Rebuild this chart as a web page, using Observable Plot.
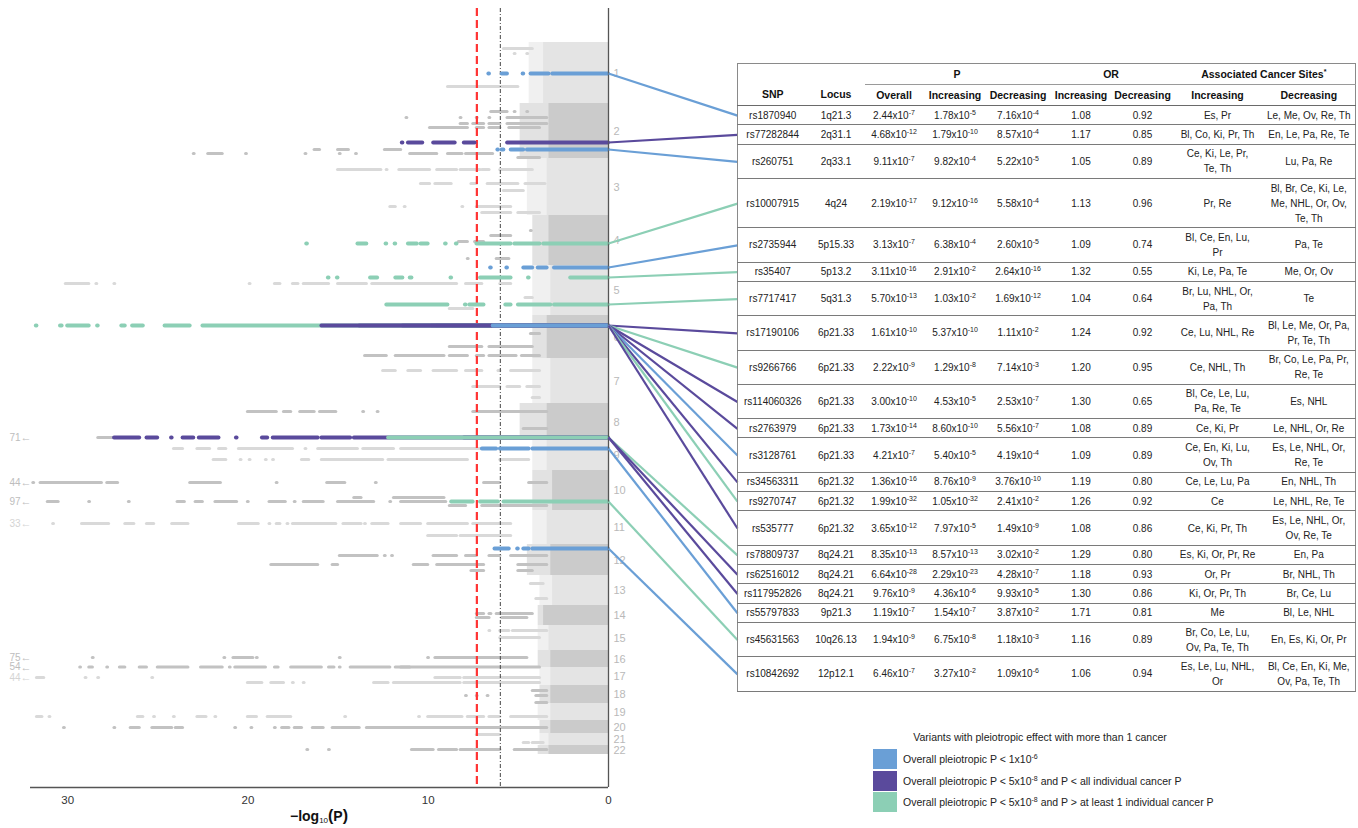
<!DOCTYPE html>
<html>
<head>
<meta charset="utf-8">
<script src="https://cdn.jsdelivr.net/npm/d3@7"></script>
<script src="https://cdn.jsdelivr.net/npm/@observablehq/plot@0.6"></script>
<style>
html,body{margin:0;padding:0;background:#fff;}
#wrap{position:relative;width:1358px;height:828px;overflow:hidden;font-family:"Liberation Sans",Arial,Helvetica,sans-serif;}
#wrap svg{position:absolute;left:0;top:0;overflow:visible;}
#tbl{position:absolute;left:737px;top:63px;width:618px;border-collapse:collapse;table-layout:fixed;border:1.5px solid #8a8a8a;color:#222;font-size:10px;}
#tbl td{padding:1.66px 1px;line-height:15px;text-align:center;vertical-align:middle;white-space:pre;border-bottom:1px solid #7a7a7a;}
#tbl th{font-weight:bold;font-size:10.5px;line-height:15px;padding:2.5px 1px;text-align:center;white-space:nowrap;color:#111;}
#tbl th.grp{border-bottom:1.5px solid #9a9a9a;}
#tbl tr.h2 th{border-bottom:1px solid #6a6a6a;}
#tbl sup{font-size:7px;line-height:0;vertical-align:4px;}
#xlabel{position:absolute;left:0;top:807px;width:638px;text-align:center;font-weight:bold;font-size:14px;color:#111;}
#xlabel sub{font-size:8px;font-weight:normal;vertical-align:-2px;}
#xlabel .par{font-size:16px;}
#legTitle{position:absolute;left:860px;top:731px;width:360px;text-align:center;font-size:10.5px;color:#222;}
.sw{position:absolute;left:873px;width:24px;height:20px;}
.lt{position:absolute;left:903px;height:20px;line-height:20px;font-size:10.5px;color:#222;white-space:nowrap;}
.lt sup{font-size:7px;line-height:0;vertical-align:4px;}
</style>
</head>
<body>
<div id="wrap"></div>
<script>
// ---------------- data ----------------
const chromosomes = ["1","2","3","4","5","6","7","8","9","10","11","12","13","14","15","16","17","18","19","20","21","22"];
const chrSpan   = [61,55,57,50,50,43,45,37,30,40,34,31,30,20,25,17,18,18,17,13,12,9];
const denseMax  = [3.6,3.3,3.4,3.3,3.2,3.4,3.2,3.4,3.4,3.1,3.4,3.2,3.1,3.6,3.3,3.2,3.2,3.2,3.2,3.2,3.3,3.3];
const fringeMax = [4.4,4.9,4.5,4.2,4.2,4.2,4.2,4.9,4.2,4.2,4.2,4.5,3.8,3.9,3.9,3.9,3.8,3.8,3.9,3.8,3.8,3.9];
const xTicks = [0,10,20,30];
const xLimit = 32.06;
const thresholdP = [5e-8, 1e-6];

const snpIds = ["rs1870940","rs77282844","rs260751","rs10007915","rs2735944","rs35407","rs7717417","rs17190106","rs9266766","rs114060326","rs2763979","rs3128761","rs34563311","rs9270747","rs535777","rs78809737","rs62516012","rs117952826","rs55797833","rs45631563","rs10842692"];
const loci = ["1q21.3","2q31.1","2q33.1","4q24","5p15.33","5p13.2","5q31.3","6p21.33","6p21.33","6p21.33","6p21.33","6p21.33","6p21.32","6p21.32","6p21.32","8q24.21","8q24.21","8q24.21","9p21.3","10q26.13","12p12.1"];
const pOverall = ["2.44e-7","4.68e-12","9.11e-7","2.19e-17","3.13e-7","3.11e-16","5.70e-13","1.61e-10","2.22e-9","3.00e-10","1.73e-14","4.21e-7","1.36e-16","1.99e-32","3.65e-12","8.35e-13","6.64e-28","9.76e-9","1.19e-7","1.94e-9","6.46e-7"];
const pIncreasing = ["1.78e-5","1.79e-10","9.82e-4","9.12e-16","6.38e-4","2.91e-2","1.03e-2","5.37e-10","1.29e-8","4.53e-5","8.60e-10","5.40e-5","8.76e-9","1.05e-32","7.97e-5","8.57e-13","2.29e-23","4.36e-6","1.54e-7","6.75e-8","3.27e-2"];
const pDecreasing = ["7.16e-4","8.57e-4","5.22e-5","5.58e-4","2.60e-5","2.64e-16","1.69e-12","1.11e-2","7.14e-3","2.53e-7","5.56e-7","4.19e-4","3.76e-10","2.41e-2","1.49e-9","3.02e-2","4.28e-7","9.93e-5","3.87e-2","1.18e-3","1.09e-6"];
const orIncreasing = ["1.08","1.17","1.05","1.13","1.09","1.32","1.04","1.24","1.20","1.30","1.08","1.09","1.19","1.26","1.08","1.29","1.18","1.30","1.71","1.16","1.06"];
const orDecreasing = ["0.92","0.85","0.89","0.96","0.74","0.55","0.64","0.92","0.95","0.65","0.89","0.89","0.80","0.92","0.86","0.80","0.93","0.86","0.81","0.89","0.94"];
const sitesIncreasing = ["Es, Pr","Bl, Co, Ki, Pr, Th","Ce, Ki, Le, Pr,\nTe, Th","Pr, Re","Bl, Ce, En, Lu,\nPr","Ki, Le, Pa, Te","Br, Lu, NHL, Or,\nPa, Th","Ce, Lu, NHL, Re","Ce, NHL, Th","Bl, Ce, Le, Lu,\nPa, Re, Te","Ce, Ki, Pr","Ce, En, Ki, Lu,\nOv, Th","Ce, Le, Lu, Pa","Ce","Ce, Ki, Pr, Th","Es, Ki, Or, Pr, Re","Or, Pr","Ki, Or, Pr, Th","Me","Br, Co, Le, Lu,\nOv, Pa, Te, Th","Es, Le, Lu, NHL,\nOr"];
const sitesDecreasing = ["Le, Me, Ov, Re, Th","En, Le, Pa, Re, Te","Lu, Pa, Re","Bl, Br, Ce, Ki, Le,\nMe, NHL, Or, Ov,\nTe, Th","Pa, Te","Me, Or, Ov","Te","Bl, Le, Me, Or, Pa,\nPr, Te, Th","Br, Co, Le, Pa, Pr,\nRe, Te","Es, NHL","Le, NHL, Or, Re","Es, Le, NHL, Or,\nRe, Te","En, NHL, Th","Le, NHL, Re, Te","Es, Le, NHL, Or,\nOv, Re, Te","En, Pa","Br, NHL, Th","Br, Ce, Lu","Bl, Le, NHL","En, Es, Ki, Or, Pr","Bl, Ce, En, Ki, Me,\nOv, Pa, Te, Th"];
const snpChr    = [1,2,2,4,5,5,5,6,6,6,6,6,6,6,6,8,8,8,9,10,12];
const snpOffset = [31,39,46,28,2,12,39,10,10,10,10,10,10,10,10,34,34,34,8,31,4];
const snpCategory = [0,1,0,2,0,2,2,1,2,1,1,0,1,2,1,2,1,1,0,2,0];
const categoryLabels = [
  "Overall pleiotropic P < 1x10<sup>-6</sup>",
  "Overall pleiotropic P < 5x10<sup>-8</sup> and P < all individual cancer P",
  "Overall pleiotropic P < 5x10<sup>-8</sup> and P > at least 1 individual cancer P"
];
const legendTitle = "Variants with pleiotropic effect with more than 1 cancer";

// highlighted variant runs: [snp index, -log10P from, -log10P to] (drawing order)
const hlRuns = [
  [0,0,3.1],[0,3.3,4.3],[0,4.7,4.7],[0,5.6,5.9],[0,6.6,6.6],
  [1,11.4,11.4],[1,10.3,11.1],[1,8.5,9.7],[1,7.4,8.0],[1,0,5.6],
  [2,6.1,6.1],[2,5.8,5.9],[2,4.7,5.4],[2,0,4.5],
  [3,16.7,16.7],[3,13.4,13.9],[3,12.3,12.3],[3,11.8,11.8],[3,10.6,11.1],[3,10.0,10.4],[3,9.0,9.0],[3,8.4,8.4],[3,5.4,7.3],[3,3.8,5.2],[3,0,3.6],
  [4,6.5,6.5],[4,5.6,5.6],[4,4.2,4.7],[4,3.4,3.9],[4,0,3.0],
  [5,15.5,15.5],[5,15.0,15.0],[5,12.8,13.2],[5,11.4,11.8],[5,10.9,11.0],[5,8.7,8.7],[5,5.4,7.1],[5,4.4,4.4],[5,0,2.1],
  [6,8.9,12.3],[6,7.9,7.9],[6,6.9,7.7],[6,5.4,5.7],[6,3.2,5.0],[6,0,3.0],
  [8,0,8.65],[7,0,9.8],[9,0,9.5],[14,0,11.4],[10,0,13.8],
  [13,31.7,31.7],[13,30.3,30.4],[13,28.8,30.0],[13,28.3,28.3],[13,26.8,27.0],[13,25.8,26.4],[13,23.2,24.6],[13,0,22.5],
  [12,0,15.9],[11,0,6.4],
  [17,0,8.0],[16,26.0,27.4],[16,25.0,25.6],[16,24.2,24.2],[16,23.0,23.6],[16,21.6,22.7],[16,20.6,20.6],[16,18.9,19.2],[16,16.1,18.6],[16,14.3,15.9],[16,0,14.1],[15,0,12.2],
  [18,6.2,7.0],[18,4.4,6.0],[18,0,4.2],
  [19,7.5,8.7],[19,6.1,7.1],[19,0,5.8],
  [20,5.5,6.3],[20,5.0,5.0],[20,4.4,4.7],[20,0,4.2]
];

// background SNP runs: [chromosome, offset within chromosome, -log10P from, to]
const bgRuns = [
  [1,6,4.2,5.8],[1,11,5.2,5.2],[1,11,4.5,4.5],[1,44,5.0,8.9],
  [2,8,5.6,6.5],[2,8,5.2,5.2],[2,8,4.5,4.5],
  [2,14,11.2,11.2],[2,14,8.2,8.2],[2,14,7.3,7.3],[2,14,6.6,6.6],[2,14,3.4,5.6],
  [2,20,7.8,8.2],[2,20,6.9,7.5],[2,20,6.0,6.6],[2,20,3.4,5.6],
  [2,24,7.8,9.9],[2,24,6.9,7.3],[2,24,6.0,6.6],[2,24,3.8,5.5],
  [2,46,16.0,16.3],[2,46,14.4,15.0],[2,46,11.5,12.4],
  [2,50,23,23],[2,50,21.4,22.2],[2,50,20.1,20.1],[2,50,16.8,16.8],[2,50,14.9,14.9],[2,50,14,14],[2,50,9.5,11.0],[2,50,8.1,8.9],[2,50,6.4,7.9],
  [2,54,3.8,5.0],
  [3,11,12.6,15.0],[3,11,12.3,12.3],[3,11,9.9,11.6],[3,11,8.4,9.5],[3,11,7.1,8.2],[3,11,6.6,7.0],[3,11,4.2,6.0],
  [3,25,9.9,10.4],[3,25,8.7,9.6],[3,25,7.3,7.6],[3,25,5.0,6.7],[3,25,3.5,4.6],
  [3,32,4.7,5.8],
  [3,48,11.8,12.1],[3,48,11.3,11.3],[3,48,8.1,8.1],[3,48,5.4,7.3],
  [3,54,5.4,7.0],[3,54,3.8,5.0],
  [4,15,4.3,4.3],[4,20,5.4,6.5],[4,26,7.8,8.3],[4,26,6.9,7.4],[4,43,7.8,7.8],[4,43,5.5,6.2],
  [5,18,28.8,30.1],[5,18,28.4,28.4],[5,18,27.4,27.4],[5,18,19.9,19.9],[5,18,18.2,18.5],[5,18,17.2,17.5],[5,18,15.5,16.9],[5,18,13.4,15.0],[5,18,8.4,13.1],[5,18,7.0,7.9],[5,18,5.4,6.0],
  [5,32,4.2,4.6],[5,43,7.5,8.8],
  [6,18,3.8,4.3],[6,31,7.0,8.8],[6,31,4.2,6.6],
  [6,40,12.3,13.5],[6,40,9.1,11.8],[6,40,7.8,8.8],[6,40,6.9,7.3],[6,40,5.1,6.6],[6,40,3.8,4.8],
  [7,12,11.8,12.5],[7,12,10.4,11.1],[7,12,8.4,9.7],[7,12,7.0,7.9],[7,12,6.0,6.1],[7,12,3.8,5.4],
  [7,28,6.0,7.5],[7,28,4.9,5.6],[7,28,3.8,4.5],[7,39,3.8,4.2],
  [8,8,18.4,20],[8,8,17.6,18],[8,8,16.3,17.1],[8,8,15.1,16],[8,8,13.6,13.6],[8,8,12.8,12.8],[8,8,3.4,7.5],
  [8,25,3.4,4.7],[8,34,27.4,28.3],
  [9,8,23.6,24.1],[9,8,22.1,22.8],[9,8,21.2,21.6],[9,8,17.5,20.5],[9,8,16.8,16.8],[9,8,13.9,16.1],[9,8,11.9,13.6],[9,8,7.1,11.5],
  [9,19,21.2,21.9],[9,19,20.4,20.4],[9,19,19.9,19.9],[9,19,19.0,19.0],[9,19,18.6,18.6],[9,19,16.6,17.0],[9,19,12.5,15.9],[9,19,11.5,12.2],[9,19,7.8,11.5],[9,19,4.4,6.0],
  [10,12,31.9,31.9],[10,12,28.1,31.5],[10,12,27.2,27.8],[10,12,21.5,23.2],[10,12,18.4,18.4],[10,12,14.6,15.6],[10,12,12.9,12.9],[10,12,6.0,6.9],[10,12,3.4,4.4],
  [10,27,13.7,14.1],[10,27,11.2,11.9],[10,27,9.1,11.5],
  [10,31,30.5,31.1],[10,31,28.8,28.8],[10,31,26.6,26.6],[10,31,23.5,23.9],[10,31,22.5,22.9],[10,31,20.6,21.8],[10,31,20.0,20.0],[10,31,17.9,18.8],[10,31,17.4,17.4],[10,31,15.8,16.9],[10,31,13.0,15.0],[10,31,12.1,12.1],[10,31,9.0,11.5],
  [10,35,7.9,8.8],[10,35,3.4,7.0],
  [11,13,30.8,30.8],[11,13,27.7,29.2],[11,13,26.3,26.8],[11,13,25.2,25.6],[11,13,23.3,24.2],[11,13,19.4,20.5],[11,13,18.8,18.8],[11,13,18.2,18.4],[11,13,17.8,17.8],[11,13,15.1,17.5],[11,13,13.7,14.7],[11,13,13.5,13.5],[11,13,12.2,13.1],[11,13,11.2,11.2],[11,13,10.4,11.5],[11,13,7.8,10.0],[11,13,5.4,7.5],
  [11,25,8.4,10.0],[11,25,5.4,8.2],
  [12,11,12.8,14.9],[12,11,12.4,12.4],[12,11,12.0,12.0],[12,11,8.4,9.7],[12,11,7.3,7.9],[12,11,6.0,6.6],[12,11,3.4,5.4],
  [12,20,16.1,18.7],[12,20,15.0,15.3],[12,20,10.0,10.8],[12,20,6.9,9.5],[12,20,3.4,5.0],
  [12,26,6.9,7.6],[12,26,4.2,5.0],
  [13,8,3.6,4.3],[13,23,3.4,4.0],
  [14,8,6.9,7.3],[14,8,6.5,6.6],[14,8,4.2,6.2],[14,12,6.6,7.3],[14,12,4.5,5.9],
  [15,5,6.6,6.6],[15,5,5.5,6.0],[15,5,3.4,5.3],[15,12,3.8,6.0],
  [16,7,28.6,28.6],[16,7,21.3,21.3],[16,7,19.7,20.8],[16,7,19.5,19.5],[16,7,14.9,14.9],[16,7,10.0,10.0],[16,7,4.5,9.6],
  [16,16.5,29.3,29.3],[16,16.5,28.6,28.8],[16,16.5,27.8,27.8],[16,16.5,26.8,27.1],[16,16.5,25.6,26.0],[16,16.5,23.3,25.0],[16,16.5,21.4,22.6],[16,16.5,21.0,21.0],[16,16.5,19.0,20.7],[16,16.5,18.3,18.5],[16,16.5,15.9,17.6],[16,16.5,15.2,15.5],[16,16.5,14.9,14.9],[16,16.5,12.1,14.3],[16,16.5,11.0,11.8],[16,16.5,3.8,11.5],
  [17,10,31.3,31.7],[17,10,29.0,29.0],[17,10,28.3,28.3],[17,10,25.3,25.3],[17,10,8.2,9.6],[17,10,3.8,8.0],
  [17,15,19.2,20.0],[17,15,18.0,18.7],[17,15,17.5,17.5],[17,15,16.9,16.9],[17,15,12.2,13.0],[17,15,11.0,11.9],[17,15,8.2,11.5],[17,15,3.8,8.0],
  [18,5,3.4,4.2],[18,10,7.9,7.9],[18,10,7.3,7.3],[18,10,6.7,6.7],[18,10,3.4,4.0],[18,17,3.4,4.0],
  [19,13,31.4,31.7],[19,13,31.0,31.0],[19,13,25.8,26.1],[19,13,25.2,25.2],[19,13,24.1,24.1],[19,13,22.3,22.8],[19,13,21.8,21.8],[19,13,19.5,20.0],[19,13,17.6,18.9],[19,13,14.6,14.6],[19,13,10.5,10.5],[19,13,8.1,10.0],[19,13,6.9,7.8],[19,13,6.0,6.6],[19,13,3.4,5.4],
  [20,7,30.2,30.2],[20,7,27.4,27.4],[20,7,26.0,26.5],[20,7,24.2,25.3],[20,7,23.6,24.0],[20,7,20.7,20.7],[20,7,19.8,19.8],[20,7,18.5,18.5],[20,7,17.7,18.1],[20,7,17.0,17.4],[20,7,15.8,16.4],[20,7,13.8,15.3],[20,7,11.0,13.4],[20,7,3.4,11.5],
  [21,1,6.0,7.3],[21,9,4.4,4.7],[21,9,3.6,4.2],
  [22,4,16.7,16.7],[22,4,15.5,15.5],[22,4,9.7,10.9],[22,4,8.4,9.4],[22,4,7.5,8.2],[22,4,6.0,7.4],[22,4,3.4,5.2]
];

// variants beyond the axis: chromosome, offset, -log10P value
const offChr    = [8,10,10,11,16,16,17];
const offOffset = [34,12,31,13,7,16.5,10];
const offValue  = [71,44,97,33,75,54,44];

// ---------------- styles ----------------
const catColors = ["#6a9fd6", "#5a4a9c", "#8ccfb5"];
const bandLight = "#e4e4e4", bandDark = "#cbcbcb";
const dotLight = "#d9d9d9", dotDark = "#c2c2c2";

// ---------------- derived ----------------
const chrStart = [];
{ let acc = 0; chrSpan.forEach(s => { chrStart.push(acc); acc += s; }); }
const gpos = (c, off) => chrStart[c - 1] + off;
const snpPos = snpIds.map((_, i) => gpos(snpChr[i], snpOffset[i]));
const yDomain = [-34, 745];
const xRange = [30, 608], yRange = [8, 787];

const wrap = document.getElementById("wrap");

// ---------------- table ----------------
const fmtP = s => { const [m, e] = s.split("e"); return `${m}x10<sup>${e}</sup>`; };
const colW = [70,57,59,63,63,63,60,90,93];
const tbl = document.createElement("table");
tbl.id = "tbl";
let html = "<colgroup>" + colW.map(w => `<col style="width:${w}px">`).join("") + "</colgroup>";
html += `<thead><tr class="h1"><th colspan="2"></th><th class="grp" colspan="3">P</th><th class="grp" colspan="2">OR</th><th class="grp" colspan="2">Associated Cancer Sites<sup>*</sup></th></tr>`;
html += `<tr class="h2">` + ["SNP","Locus","Overall","Increasing","Decreasing","Increasing","Decreasing","Increasing","Decreasing"].map(h => `<th>${h}</th>`).join("") + `</tr></thead><tbody>`;
snpIds.forEach((id, i) => {
  html += `<tr><td>${id}</td><td>${loci[i]}</td><td>${fmtP(pOverall[i])}</td><td>${fmtP(pIncreasing[i])}</td><td>${fmtP(pDecreasing[i])}</td><td>${orIncreasing[i]}</td><td>${orDecreasing[i]}</td><td>${sitesIncreasing[i]}</td><td>${sitesDecreasing[i]}</td></tr>`;
});
html += "</tbody>";
tbl.innerHTML = html;
wrap.appendChild(tbl);

// legend
const lt = document.createElement("div");
lt.id = "legTitle"; lt.textContent = legendTitle; wrap.appendChild(lt);
categoryLabels.forEach((lab, i) => {
  const top = 749 + i * 21.5;
  const sw = document.createElement("div");
  sw.className = "sw"; sw.style.top = top + "px"; sw.style.background = catColors[i];
  wrap.appendChild(sw);
  const t = document.createElement("div");
  t.className = "lt"; t.style.top = top + "px"; t.innerHTML = lab;
  wrap.appendChild(t);
});

// x label
const xl = document.createElement("div");
xl.id = "xlabel"; xl.innerHTML = "\u2212log<sub>10</sub><span class=\"par\">(</span>P<span class=\"par\">)</span>";
wrap.appendChild(xl);

// measure table rows
const wr = wrap.getBoundingClientRect();
const rowCenters = Array.from(tbl.tBodies[0].rows).map(r => {
  const b = r.getBoundingClientRect();
  return b.top - wr.top + b.height / 2;
});
const tblLeft = tbl.getBoundingClientRect().left - wr.left;

const xs = Plot.scale({x: {domain: [xLimit, 0], range: xRange}});
const ys = Plot.scale({y: {domain: yDomain, range: yRange}});
const xTable = xs.invert(tblLeft);

const links = snpIds.map((id, i) => ({
  y1: snpPos[i], y2: ys.invert(rowCenters[i]), c: catColors[snpCategory[i]]
}));

const shadeDot = c => (c % 2 === 1 ? dotLight : dotDark);
const tiny = d => (d[2] === d[3] ? d[3] - 0.04 : d[3]);
const offFill = (d, i) => (offChr[i] % 2 ? "#d4d4d4" : "#bdbdbd");

const plot = Plot.plot({
  width: 740,
  height: 828,
  marginLeft: 30,
  marginRight: 132,
  marginTop: 8,
  marginBottom: 41,
  style: {fontFamily: "'Liberation Sans', Arial, sans-serif", fontSize: "11px", color: "#333", overflow: "visible", background: "transparent"},
  x: {domain: [xLimit, 0], range: xRange, label: null},
  y: {domain: yDomain, range: yRange, axis: null},
  marks: [
    Plot.rect(chromosomes, {x1: 0, x2: (d, i) => fringeMax[i], y1: (d, i) => chrStart[i], y2: (d, i) => chrStart[i] + chrSpan[i],
      fill: (d, i) => (i % 2 === 0 ? bandLight : bandDark), fillOpacity: 0.55}),
    Plot.rect(chromosomes, {x1: 0, x2: (d, i) => denseMax[i], y1: (d, i) => chrStart[i], y2: (d, i) => chrStart[i] + chrSpan[i],
      fill: (d, i) => (i % 2 === 0 ? bandLight : bandDark)}),
    Plot.ruleY(bgRuns, {y: d => gpos(d[0], d[1]), x1: d => d[2], x2: tiny,
      stroke: d => shadeDot(d[0]), strokeWidth: 3.1, strokeLinecap: "round"}),
    Plot.ruleX([-Math.log10(thresholdP[0])], {stroke: "#ff3434", strokeWidth: 2.2, strokeDasharray: "8,4"}),
    Plot.ruleX([-Math.log10(thresholdP[1])], {stroke: "#444", strokeWidth: 1, strokeDasharray: "4,2,1,2"}),
    Plot.ruleY(hlRuns, {y: d => snpPos[d[0]], x1: d => d[1], x2: d => (d[1] === d[2] ? d[2] + 0.04 : d[2]),
      stroke: d => catColors[snpCategory[d[0]]], strokeWidth: 3.8, strokeLinecap: "round"}),
    Plot.ruleX([0], {stroke: "#555", strokeWidth: 1.3}),
    Plot.ruleY([yDomain[1]], {stroke: "#555", strokeWidth: 1.3}),
    Plot.axisX({ticks: xTicks, tickSize: 0, tickPadding: 8, fontSize: 11.5, label: null}),
    Plot.text(chromosomes, {x: 0, y: (d, i) => chrStart[i] + chrSpan[i] / 2, text: d => d, dx: 5, textAnchor: "start",
      fill: "#b9b9b9", fontSize: 11}),
    Plot.text(offValue, {x: xLimit, y: (d, i) => gpos(offChr[i], offOffset[i]), text: d => String(d), textAnchor: "end", dx: -10,
      fill: offFill, fontSize: 10}),
    Plot.text(offValue, {x: xLimit, y: (d, i) => gpos(offChr[i], offOffset[i]), text: () => "\u2190", textAnchor: "end", dx: 1,
      fill: offFill, fontSize: 11, fontWeight: "bold"}),
    Plot.link(links, {x1: 0, y1: "y1", x2: xTable, y2: "y2", stroke: "c", strokeWidth: 2.2})
  ]
});
wrap.insertBefore(plot, wrap.firstChild);
</script>
</body>
</html>
